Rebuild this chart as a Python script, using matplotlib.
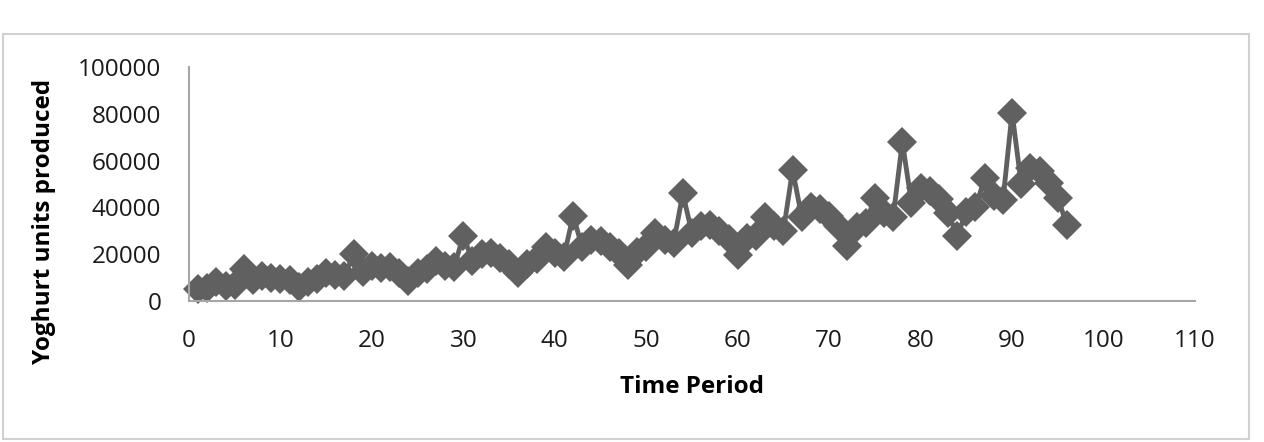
import numpy as np
import matplotlib.pyplot as plt
from matplotlib.patches import Rectangle

periods = np.arange(1, 97)
units = [
    5000, 5500, 8000, 6500, 7000, 13500, 9000, 10500, 10000, 9500,
    9000, 6000, 8000, 9500, 12000, 11000, 10500, 20000, 12500, 15000,
    14000, 14500, 12000, 8500, 12000, 13500, 17000, 15000, 14500, 28000,
    17000, 20000, 20500, 18500, 16000, 12000, 16000, 18000, 23000, 20500,
    19000, 36500, 23000, 26000, 25500, 23000, 20500, 15500, 21000, 23000,
    29000, 26000, 25000, 46000, 29000, 32000, 32500, 30000, 26500, 19500,
    27000, 28000, 36000, 32000, 30000, 56000, 36000, 40000, 39500, 36500,
    32000, 23500, 31500, 33500, 44000, 37500, 36000, 68000, 42000, 48500,
    47000, 43500, 37500, 28000, 38000, 40000, 52500, 45000, 43000, 80500,
    50000, 57000, 55500, 50500, 44000, 32500,
]
x_ticks = np.arange(0, 111, 10)
y_ticks = np.arange(0, 100001, 20000)

plt.rcParams['font.family'] = ['Open Sans', 'DejaVu Sans']

fig = plt.figure(figsize=(12.64, 4.42), dpi=100)
ax = fig.add_axes([0.1495, 0.319, 0.7959, 0.529])

ax.plot(periods, units, color='#606060', lw=3.5, marker='D', markersize=15,
        markeredgewidth=0, clip_on=False)

ax.set_xlim(0, 110)
ax.set_ylim(0, 100000)
ax.set_xticks(x_ticks)
ax.set_yticks(y_ticks)
ax.tick_params(length=0, labelsize=17.5, colors='#1a1a1a')
ax.tick_params(axis='x', pad=20)
ax.tick_params(axis='y', pad=20)

for side in ['top', 'right']:
    ax.spines[side].set_visible(False)
for side in ['left', 'bottom']:
    ax.spines[side].set_color('#a6a6a6')
    ax.spines[side].set_linewidth(1.5)

ax.set_xlabel('Time Period', fontsize=17.5, fontweight='bold', labelpad=16)
ax.set_ylabel('Yoghurt units produced', fontsize=17.5, fontweight='bold')
ax.yaxis.set_label_coords(-0.132, 0.34)

fig.patches.append(Rectangle((0.002, 0.006), 0.986, 0.918, transform=fig.transFigure,
                             fill=False, edgecolor='#d0d0d0', lw=1.5))

fig.savefig('out.png', dpi=100)
